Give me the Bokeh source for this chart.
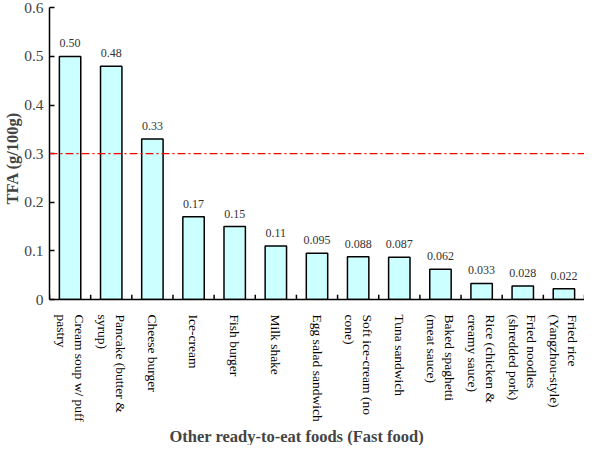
import numpy as np
from bokeh.plotting import figure
from bokeh.models import (FactorRange, Range1d, CategoricalAxis, FixedTicker,
                          Span, LabelSet, Title, ColumnDataSource)
from bokeh.embed import file_html
from bokeh.resources import INLINE

categories = [
    "Cream soup w/ puff\npastry",
    "Pancake (butter &\nsyrup)",
    "Cheese burger",
    "Ice-cream",
    "Fish burger",
    "Milk shake",
    "Egg salad sandwich",
    "Soft ice-cream (no\ncone)",
    "Tuna sandwich",
    "Baked spaghetti\n(meat sauce)",
    "Rice (chicken &\ncreamy sauce)",
    "Fried noodles\n(shredded pork)",
    "Fried rice\n(Yangzhou-style)",
]
tfa = [0.50, 0.48, 0.33, 0.17, 0.15, 0.11, 0.095, 0.088, 0.087, 0.062, 0.033, 0.028, 0.022]
value_labels = ["0.50", "0.48", "0.33", "0.17", "0.15", "0.11", "0.095", "0.088", "0.087", "0.062", "0.033", "0.028", "0.022"]
y_ticks = [0, 0.1, 0.2, 0.3, 0.4, 0.5, 0.6]
y_tick_labels = ["0", "0.1", "0.2", "0.3", "0.4", "0.5", "0.6"]
threshold = 0.3
x_title = "Other ready-to-eat foods (Fast food)"
y_title = "TFA (g/100g)"

SERIF = "Liberation Serif"
n = len(categories)
y_max = 0.615

p = figure(width=584, height=445, output_backend="svg", toolbar_location=None,
           x_range=FactorRange(factors=categories, range_padding=0), y_range=Range1d(0, y_max),
           x_axis_location=None,
           min_border_top=0, min_border_right=0, min_border_left=0, min_border_bottom=0)
p.outline_line_color = None
p.grid.grid_line_color = None
p.background_fill_color = "white"

src = ColumnDataSource(dict(x=categories, top=tfa, lab=value_labels))
p.vbar(x="x", top="top", width=0.52, source=src, fill_color="#CCFFFF",
       line_color="black", line_width=1.5)

p.add_layout(Span(location=threshold, dimension="width", line_color="#FF0000",
                  line_width=1.2, line_dash="8 3 2 3"))

p.add_layout(LabelSet(x="x", y="top", text="lab", source=src, text_align="center",
                      text_baseline="bottom", y_offset=9, text_font=SERIF,
                      text_font_size="12px", text_color="#333333"))

# inward ticks at the category boundaries (synthetic x coordinates 0..n)
boundaries = list(range(n + 1))
p.segment(x0=boundaries, y0=[0] * (n + 1), x1=boundaries, y1=[y_max * 0.016] * (n + 1),
          line_color="black", line_width=1.5)

cat_axis = CategoricalAxis(axis_line_color="black", axis_line_width=1.5,
                           major_tick_line_color=None, minor_tick_line_color=None,
                           major_label_orientation=-np.pi / 2,
                           major_label_text_font=SERIF,
                           major_label_text_font_size="13.5px",
                           major_label_text_color="black",
                           major_label_standoff=9)
p.add_layout(cat_axis, "below")

p.add_layout(Title(text=x_title, align="left", offset=120, text_font=SERIF,
                   text_font_style="bold", text_font_size="16.5px", standoff=0), "below")

ya = p.yaxis[0]
ya.ticker = FixedTicker(ticks=y_ticks)
ya.major_label_overrides = {t: l for t, l in zip(y_ticks, y_tick_labels)}
ya.bounds = (0, 0.6)
ya.major_tick_in = 5
ya.major_tick_out = 0
ya.minor_tick_line_color = None
ya.axis_line_width = 1.5
ya.major_tick_line_width = 1.5
ya.major_label_text_font = SERIF
ya.major_label_text_font_size = "15.5px"
ya.major_label_standoff = 6

p.add_layout(Title(text=y_title, align="left", offset=95, text_font=SERIF,
                   text_font_style="bold", text_font_size="16.5px", standoff=0), "left")

open("out.html", "w").write(file_html(p, INLINE))
